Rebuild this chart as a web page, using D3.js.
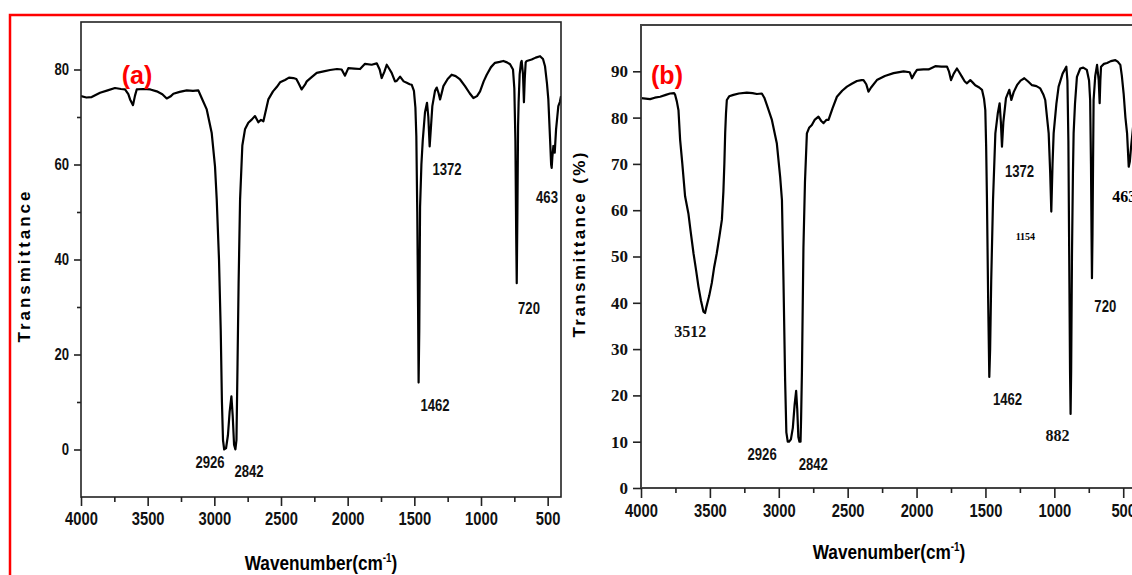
<!DOCTYPE html>
<html>
<head>
<meta charset="utf-8">
<script src="https://cdnjs.cloudflare.com/ajax/libs/d3/7.8.5/d3.min.js"></script>
<style>
  body { margin: 0; background: #fff; }
  svg { display: block; }
  .narrow { font-family: "Liberation Sans Narrow", "Arial Narrow", "Liberation Sans", Arial, sans-serif; font-weight: bold; }
  .serif { font-family: "Liberation Serif", "Times New Roman", serif; font-weight: bold; }
</style>
</head>
<body>
<div id="graph"></div>
<script>
// tick values shared by both panels
var waveMajor = [4000, 3500, 3000, 2500, 2000, 1500, 1000, 500];
var waveMinor = [3750, 3250, 2750, 2250, 1750, 1250, 750];
var transMajorA = [0, 20, 40, 60, 80];
var transMinorA = [10, 30, 50, 70];
var transMajorB = [0, 10, 20, 30, 40, 50, 60, 70, 80, 90];

// spectrum (a): [wavenumber, transmittance]
var specA = [
  [4000,74.4],[3960,74.1],[3920,74.2],[3857,75.1],[3800,75.6],[3745,76.1],[3700,75.9],[3670,75.8],
  [3645,74.8],[3632,73.7],[3610,72.5],[3595,74.5],[3582,75.8],[3532,75.9],[3480,75.8],[3432,75.4],
  [3390,74.8],[3357,73.9],[3330,74.3],[3307,74.9],[3260,75.3],[3207,75.6],[3160,75.5],[3120,75.6],
  [3095,74],[3057,71.6],[3020,66.7],[2995,59.6],[2982,52.6],[2965,40],[2952,25],[2943,10],[2935,2],
  [2926,0],[2912,0.3],[2898,3],[2885,8],[2872,11.2],[2862,7],[2852,1],[2842,0],[2834,2],[2826,18],
  [2818,35],[2807,52.6],[2790,64],[2770,67.4],[2745,68.8],[2718,69.5],[2695,70.2],[2670,68.9],
  [2650,69.4],[2632,69.1],[2595,73.7],[2560,75.4],[2532,76.3],[2507,77.3],[2470,77.8],[2440,78.3],
  [2407,78.2],[2385,78.0],[2370,77.2],[2345,75.8],[2320,76.8],[2307,77.5],[2270,78.4],[2232,79.3],
  [2180,79.6],[2132,79.9],[2080,80.1],[2045,80],[2020,78.7],[1995,80.3],[1950,80.2],[1907,80.1],
  [1870,81.2],[1820,81.0],[1782,81.3],[1760,80.0],[1745,78.2],[1725,79.5],[1707,81],[1685,80.0],
  [1670,79.3],[1645,77.5],[1632,77.6],[1607,78.5],[1580,77.5],[1557,77.2],[1535,76.9],[1520,76.8],
  [1503,75.5],[1492,72.0],[1485,66],[1478,50],[1472,30],[1468,14.1],[1463,25],[1457,51],[1447,60],
  [1437,65],[1420,71],[1405,73],[1395,70],[1385,63.8],[1375,68],[1365,72.3],[1345,75.5],[1332,76.2],
  [1318,75],[1307,73.7],[1295,75],[1282,76.5],[1250,78],[1220,78.9],[1190,78.6],[1157,77.9],
  [1120,76.5],[1085,75],[1057,74],[1030,74.4],[1007,75.4],[980,77.5],[957,78.9],[925,80.5],[895,81.4],
  [860,81.6],[832,81.8],[805,81.5],[782,81.1],[760,80],[750,76],[742,65],[736,45],[732,35],[727,50],
  [722,68],[718,73],[710,79],[700,81.5],[695,81.8],[685,79],[678,73.1],[672,78],[665,81.5],[657,81.8],
  [620,82.1],[590,82.5],[557,82.8],[535,82.2],[520,80.7],[505,77],[495,73.7],[482,65.3],[474,60],
  [470,59.3],[465,61.5],[457,63.9],[447,62.5],[437,67.4],[428,70],[420,72.3],[408,73.2],[400,74.4]
];

// spectrum (b): [wavenumber, transmittance %]
var specB = [
  [4000,84.2],[3934,84.0],[3900,84.3],[3861,84.5],[3820,84.9],[3789,85.2],[3760,85.3],[3752,84.9],
  [3740,83.5],[3728,81.6],[3716,75.2],[3700,70],[3680,63],[3656,59.3],[3640,55.5],[3619,50.7],
  [3600,47],[3583,43.5],[3565,40.5],[3547,38.1],[3535,37.8],[3527,38.9],[3505,41.5],[3486,44.3],
  [3470,47.5],[3450,50.7],[3430,54.5],[3413,57.9],[3402,64],[3395,70],[3389,76.7],[3383,81],
  [3377,83.8],[3360,84.6],[3329,84.9],[3290,85.2],[3232,85.4],[3190,85.3],[3159,85.1],[3123,85.2],
  [3105,84.3],[3086,82.7],[3050,79.5],[3014,74.4],[2990,67.2],[2977,62.2],[2966,45],[2954,23.3],
  [2945,12],[2935,10],[2926,10],[2912,10.5],[2898,13],[2885,18],[2874,21],[2866,17],[2858,11],
  [2850,10],[2842,10],[2838,15],[2832,25],[2821,52],[2810,66],[2796,76.6],[2780,77.8],[2760,78.4],
  [2740,79.5],[2712,80.2],[2690,79.2],[2675,78.8],[2655,79.5],[2639,79.5],[2610,82],[2578,84.5],
  [2540,85.8],[2505,86.7],[2470,87.3],[2433,87.9],[2400,88.1],[2385,88.1],[2365,87.2],[2349,85.6],
  [2330,86.5],[2288,88.1],[2230,89],[2167,89.6],[2094,90],[2050,89.8],[2033,88.5],[2015,89.5],
  [1997,90.3],[1950,90.4],[1913,90.4],[1864,91.1],[1820,91],[1779,91],[1765,90],[1750,88.1],
  [1730,89.5],[1707,90.6],[1690,89.8],[1670,88.8],[1650,87.8],[1634,87.4],[1610,88.1],[1590,87.5],
  [1574,87],[1545,86.5],[1525,86],[1510,84],[1501,81.6],[1495,74],[1489,62.2],[1480,40],[1472,24],
  [1466,30],[1458,45],[1445,62.2],[1428,76.6],[1410,81],[1397,83.1],[1388,79],[1380,73.7],[1370,79],
  [1351,84.2],[1327,86],[1320,85],[1312,83.8],[1295,85.5],[1271,87],[1245,88],[1218,88.5],[1190,87.8],
  [1162,87],[1130,86.8],[1102,86.3],[1080,85],[1066,83.8],[1041,76.6],[1030,68],[1022,59.7],[1013,70],
  [1005,76.6],[985,83],[969,86.7],[940,89.5],[913,91],[905,88],[898,75],[892,50],[886,25],[882,16],
  [878,25],[872,50],[865,68],[860,76.6],[850,83],[836,88.8],[812,90.6],[790,90.8],[764,90.3],[748,88],
  [740,83.8],[734,70],[730,55],[727,45.3],[723,55],[719,70],[715,83.8],[703,89],[690,91.4],[678,88.1],
  [671,83.1],[666,88],[661,91],[640,91.6],[617,91.8],[590,92.2],[557,92.4],[540,92.1],[521,91.4],
  [510,89],[497,85.2],[484,80],[472,76.6],[460,69.4],[452,70.5],[443,73.7],[435,76],[425,79],
  [410,81],[400,82]
];

// peak labels, anchored in data coordinates [label, wavenumber, transmittance]
var labelsA = [["2926",3032,-3.8],["2842",2740,-5.7],["1462",1345,8.2],["1372",1255,57.7],["720",640,28.6],["463",505,52]];
var labelsB = [["2926",3121,6],["2842",2750,3.9],["1462",1340,17.9],["1372",1253,67.2],["720",630,38]];
var labelsBSerif = [["3512",3643,32.6],["882",977,10.2]];

// the original uses a condensed sans; squeeze the regular face horizontally
var squeeze = 0.82;

var svg = d3.select("#graph").append("svg")
    .attr("width", 1132)
    .attr("height", 575);

// red outline box
svg.append("path")
    .attr("d", "M10,576 L10,15 L1134,15")
    .style("fill", "none")
    .style("stroke", "#ff0000")
    .style("stroke-width", 2.5);

var line = function(x, y) {
  return d3.line()
      .x(function(d) { return x(d[0]); })
      .y(function(d) { return y(d[1]); });
};

// ---------- panel (a) ----------
var xA = d3.scaleLinear().domain([4000, 400]).range([81, 561]);
var yA = d3.scaleLinear().domain([-10, 90]).range([497, 22]);

svg.append("clipPath").attr("id", "clipA")
  .append("rect").attr("x", 81).attr("y", 22).attr("width", 480).attr("height", 475);

svg.append("path")
    .datum(specA)
    .attr("clip-path", "url(#clipA)")
    .attr("d", line(xA, yA))
    .style("fill", "none")
    .style("stroke", "#000")
    .style("stroke-width", 2.2)
    .style("stroke-linejoin", "round");

svg.append("rect")
    .attr("x", 81).attr("y", 22).attr("width", 480).attr("height", 475)
    .style("fill", "none").style("stroke", "#222").style("stroke-width", 1.6);

var gxA = svg.append("g").attr("class", "narrow")
    .attr("transform", "translate(0,497)")
    .call(d3.axisBottom(xA).tickValues(waveMajor).tickSize(9).tickPadding(6).tickFormat(d3.format("d")));
svg.append("g")
    .attr("transform", "translate(0,497)")
    .call(d3.axisBottom(xA).tickValues(waveMinor).tickSize(5).tickFormat(""));

var gyA = svg.append("g").attr("class", "narrow")
    .attr("transform", "translate(81,0)")
    .call(d3.axisLeft(yA).tickValues(transMajorA).tickSize(7).tickPadding(5));
svg.append("g")
    .attr("transform", "translate(81,0)")
    .call(d3.axisLeft(yA).tickValues(transMinorA).tickSize(4).tickFormat(""));

// ---------- panel (b) ----------
var xB = d3.scaleLinear().domain([4000, 400]).range([641, 1137]);
var yB = d3.scaleLinear().domain([0, 100]).range([488, 25]);

svg.append("clipPath").attr("id", "clipB")
  .append("rect").attr("x", 641).attr("y", 25).attr("width", 496).attr("height", 463);

svg.append("path")
    .datum(specB)
    .attr("clip-path", "url(#clipB)")
    .attr("d", line(xB, yB))
    .style("fill", "none")
    .style("stroke", "#000")
    .style("stroke-width", 2.2)
    .style("stroke-linejoin", "round");

svg.append("rect")
    .attr("x", 641).attr("y", 25).attr("width", 496).attr("height", 463)
    .style("fill", "none").style("stroke", "#444").style("stroke-width", 2);

svg.append("g").attr("class", "narrow")
    .attr("transform", "translate(0,488)")
    .call(d3.axisBottom(xB).tickValues(waveMajor).tickSize(10).tickPadding(6).tickFormat(d3.format("d")));
svg.append("g")
    .attr("transform", "translate(0,488)")
    .call(d3.axisBottom(xB).tickValues(waveMinor).tickSize(5).tickFormat(""));

svg.append("g").attr("class", "serif")
    .attr("transform", "translate(641,0)")
    .call(d3.axisLeft(yB).tickValues(transMajorB).tickSize(8).tickPadding(5));

// axis styling
svg.selectAll(".domain").remove();
svg.selectAll(".tick line").style("stroke", "#222").style("stroke-width", 1.6);
svg.selectAll(".narrow .tick text").style("font-size", "18px").style("fill", "#111")
    .attr("transform", "scale(" + squeeze + ",1)");
gyA.selectAll(".tick text").style("font-size", "16px")
    .attr("x", -12 / squeeze);
svg.selectAll(".serif .tick text").style("font-size", "17px").style("fill", "#111");

// ---------- texts ----------
svg.append("text")
    .attr("transform", "translate(30,267) rotate(-90)")
    .attr("text-anchor", "middle")
    .attr("textLength", 151).attr("lengthAdjust", "spacing")
    .style("font-family", "'Liberation Sans', Arial, sans-serif")
    .style("font-weight", "bold")
    .style("font-size", "17px")
    .text("Transmittance");

svg.append("text")
    .attr("transform", "translate(585,245) rotate(-90)")
    .attr("text-anchor", "middle")
    .attr("textLength", 185).attr("lengthAdjust", "spacing")
    .style("font-family", "'Liberation Sans', Arial, sans-serif")
    .style("font-weight", "bold")
    .style("font-size", "17px")
    .text("Transmittance (%)");

function xTitle(cx, by) {
  var t = svg.append("text").attr("class", "narrow")
      .attr("transform", "translate(" + cx + "," + by + ") scale(" + squeeze + ",1)")
      .attr("text-anchor", "middle")
      .style("font-size", "21px");
  t.append("tspan").text("Wavenumber(cm");
  t.append("tspan").attr("dy", -8).style("font-size", "12px").text("-1");
  t.append("tspan").attr("dy", 8).text(")");
}
xTitle(321, 570);
xTitle(889, 559);

svg.append("text").attr("x", 137).attr("y", 84).attr("text-anchor", "middle")
    .style("font-family", "'Liberation Sans', Arial, sans-serif").style("font-weight", "bold")
    .style("font-size", "25px").style("fill", "#ff0000").text("(a)");
svg.append("text").attr("x", 667).attr("y", 84).attr("text-anchor", "middle")
    .style("font-family", "'Liberation Sans', Arial, sans-serif").style("font-weight", "bold")
    .style("font-size", "25px").style("fill", "#ff0000").text("(b)");

function peakLabels(data, x, y, cls, k) {
  svg.selectAll(null).data(data).enter().append("text")
      .attr("class", cls)
      .attr("transform", function(d) {
        return "translate(" + x(d[1]) + "," + y(d[2]) + ") scale(" + k + ",1)";
      })
      .attr("text-anchor", "middle")
      .style("font-size", "16px").style("fill", "#111")
      .text(function(d) { return d[0]; });
}
peakLabels(labelsA, xA, yA, "narrow", squeeze);
peakLabels(labelsB, xB, yB, "narrow", squeeze);
peakLabels(labelsBSerif, xB, yB, "serif", 1);

svg.append("text").attr("class", "serif")
    .attr("x", xB(1210)).attr("y", yB(53.5)).attr("text-anchor", "middle")
    .style("font-size", "10px").text("1154");
svg.append("text").attr("class", "serif")
    .attr("x", xB(579)).attr("y", yB(61.8))
    .style("font-size", "16px").text("463");
</script>
</body>
</html>
